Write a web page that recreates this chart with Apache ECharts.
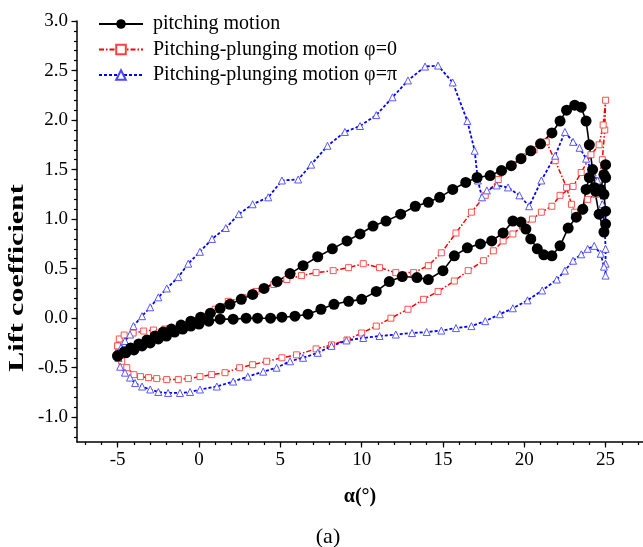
<!DOCTYPE html>
<html lang="en">
<head>
<meta charset="UTF-8">
<title>Lift coefficient</title>
<script src="https://cdn.jsdelivr.net/npm/echarts@6/dist/echarts.min.js"></script>
<style>
    html, body { margin: 0; padding: 0; background: #ffffff; }
    #chart { width: 643px; height: 547px; }
</style>
</head>
<body>
<div id="chart"></div>
<script>
// pitching motion (black, filled circles)
var pitchAlpha = [-5.0, -4.6, -4.2, -3.7, -3.2, -2.7, -2.2, -1.7, -1.1, -0.5, 0.1, 0.7, 1.3, 1.9, 2.6, 3.3, 4.0, 4.8, 5.6, 6.4,
    7.3, 8.2, 9.1, 9.9, 10.7, 11.5, 12.4, 13.3, 14.1, 14.8, 15.6, 16.4, 17.1, 17.9, 18.6, 19.2, 19.8, 20.4, 21.0, 21.7,
    22.2, 22.6, 23.1, 23.5, 23.8, 24.0, 24.2, 24.4, 24.7, 24.9, 25.0, 25.0, 24.9, 25.0, 25.0, 24.9, 24.6, 24.3, 24.0, 23.8,
    23.6, 23.2, 22.7, 22.2, 21.7, 21.2, 20.8, 20.4, 20.1, 19.8, 19.3, 18.7, 18.0, 17.3, 16.5, 15.7, 15.0, 14.1, 13.4, 12.5,
    11.7, 10.9, 10.0, 9.2, 8.3, 7.5, 6.7, 5.9, 5.1, 4.4, 3.6, 2.9, 2.1, 1.3, 0.6, 0.0, -0.5, -1.0, -1.5, -2.0,
    -2.5, -3.0, -3.5, -4.0, -4.5, -5.0];
var pitchCL = [-0.38, -0.34, -0.30, -0.26, -0.22, -0.18, -0.14, -0.11, -0.07, -0.03, 0.01, 0.05, 0.10, 0.14, 0.19, 0.24, 0.30, 0.37, 0.45, 0.53,
    0.62, 0.70, 0.78, 0.85, 0.93, 0.98, 1.05, 1.13, 1.17, 1.22, 1.30, 1.37, 1.42, 1.44, 1.49, 1.54, 1.61, 1.69, 1.76, 1.87,
    1.99, 2.10, 2.15, 2.13, 1.99, 1.75, 1.50, 1.28, 1.30, 1.45, 1.55, 1.42, 1.25, 1.08, 0.95, 0.87, 1.05, 1.32, 1.42, 1.30,
    1.10, 1.02, 0.91, 0.73, 0.63, 0.64, 0.70, 0.80, 0.90, 0.97, 0.98, 0.86, 0.78, 0.75, 0.71, 0.63, 0.48, 0.39, 0.41, 0.42,
    0.37, 0.27, 0.19, 0.17, 0.14, 0.09, 0.04, 0.02, 0.01, 0.00, 0.00, 0.00, -0.01, -0.01, -0.03, -0.06, -0.08, -0.11, -0.14, -0.18,
    -0.21, -0.25, -0.28, -0.32, -0.35, -0.38];

// pitching-plunging motion, phase 0 (red, open squares)
var phi0Alpha = [-5.0, -4.9, -4.6, -4.05, -3.4, -2.8, -2.1, -1.2, -0.45, 0.27, 1.0, 1.8, 2.7, 3.5, 4.6, 5.4, 6.3, 7.2, 8.25, 9.2,
    10.1, 11.1, 12.1, 13.2, 14.1, 14.9, 15.8, 16.75, 17.6, 18.4, 19.3, 19.9, 20.6, 21.35, 21.9, 22.6, 22.9, 23.1, 23.5, 23.9,
    24.4, 24.8, 24.95, 25.0, 24.85, 24.6, 24.1, 23.5, 23.0, 22.2, 21.7, 21.05, 20.5, 19.9, 19.3, 18.7, 18.1, 17.5, 16.55, 15.7,
    14.7, 13.8, 12.85, 11.8, 10.9, 10.0, 9.1, 8.15, 7.2, 6.0, 5.1, 4.16, 3.3, 2.5, 1.6, 0.78, 0.06, -0.66, -1.27, -1.98,
    -2.6, -3.1, -3.6, -4.0, -4.44, -4.75, -4.95, -5.0];
var phi0CL = [-0.28, -0.21, -0.17, -0.15, -0.13, -0.12, -0.11, -0.08, -0.03, 0.02, 0.09, 0.17, 0.21, 0.27, 0.34, 0.39, 0.43, 0.46, 0.48, 0.51,
    0.55, 0.51, 0.46, 0.46, 0.53, 0.66, 0.86, 1.07, 1.24, 1.40, 1.55, 1.63, 1.70, 1.78, 1.59, 1.32, 1.15, 1.07, 1.08, 1.20,
    1.25, 1.60, 1.90, 2.20, 1.95, 1.75, 1.65, 1.47, 1.33, 1.24, 1.13, 1.07, 1.00, 0.93, 0.85, 0.78, 0.68, 0.58, 0.48, 0.375,
    0.27, 0.19, 0.09, 0.00, -0.08, -0.15, -0.22, -0.27, -0.31, -0.37, -0.40, -0.435, -0.47, -0.50, -0.55, -0.57, -0.59, -0.61, -0.62, -0.62,
    -0.61, -0.60, -0.59, -0.57, -0.50, -0.435, -0.35, -0.28];

// pitching-plunging motion, phase pi (blue, open triangles)
var phiPiAlpha = [-4.95, -4.8, -4.55, -4.24, -4.03, -3.5, -3.0, -2.5, -1.98, -1.27, -0.66, 0.06, 0.8, 1.65, 2.45, 3.3, 4.26, 5.1, 6.1, 6.9,
    7.9, 8.97, 9.9, 10.9, 11.9, 12.85, 13.9, 14.7, 15.6, 16.5, 16.95, 17.15, 17.4, 17.7, 18.3, 19.0, 19.7, 20.3, 21.05, 21.9,
    22.5, 23.0, 23.4, 23.8, 24.2, 24.5, 24.8, 24.95, 25.0, 25.0, 25.0, 24.9, 24.7, 24.3, 23.9, 23.5, 23.0, 22.5, 22.0, 21.1,
    20.2, 19.3, 18.5, 17.6, 16.75, 15.8, 14.9, 14.0, 13.1, 12.1, 11.1, 10.1, 9.07, 8.15, 7.3, 6.4, 5.6, 4.77, 3.95, 3.0,
    2.1, 1.1, 0.06, -0.55, -1.17, -1.9, -2.5, -3.0, -3.5, -3.93, -4.24, -4.55, -4.85, -4.95];
var phiPiCL = [-0.40, -0.30, -0.23, -0.165, -0.08, 0.02, 0.11, 0.21, 0.30, 0.415, 0.55, 0.67, 0.80, 0.91, 1.05, 1.15, 1.22, 1.39, 1.40, 1.55,
    1.74, 1.88, 1.94, 2.05, 2.23, 2.40, 2.54, 2.55, 2.38, 1.99, 1.69, 1.39, 1.22, 1.29, 1.34, 1.32, 1.24, 1.13, 1.39, 1.64,
    1.88, 1.78, 1.72, 1.61, 1.47, 1.39, 1.15, 0.90, 0.70, 0.55, 0.43, 0.52, 0.65, 0.73, 0.70, 0.645, 0.58, 0.48, 0.39, 0.28,
    0.18, 0.10, 0.04, -0.03, -0.08, -0.10, -0.125, -0.14, -0.15, -0.165, -0.18, -0.20, -0.225, -0.28, -0.35, -0.40, -0.435, -0.50, -0.54, -0.59,
    -0.64, -0.69, -0.72, -0.745, -0.755, -0.755, -0.745, -0.72, -0.69, -0.655, -0.60, -0.55, -0.49, -0.40];

// tick labels
var xTicks = [-5, 0, 5, 10, 15, 20, 25];
var yTicks = [-1.0, -0.5, 0.0, 0.5, 1.0, 1.5, 2.0, 2.5, 3.0];

var serif = 'Liberation Serif';
var xMin = -7.5, xMax = 27.3, yMin = -1.25, yMax = 3.0;

// minor ticks: every 1 degree on x, every 0.1 on y
var xMinor = [];
for (var i = -7; i <= 27; i++) xMinor.push(i);
var yMinor = [];
for (var j = -12; j <= 30; j++) yMinor.push(j / 10);

function zip(a, b) {
    return a.map(function (v, k) { return [v, b[k]]; });
}

var chart = echarts.init(document.getElementById('chart'));

var axisLine = { show: true, onZero: false, lineStyle: { color: '#000', width: 1.5 } };
var noLine = { show: false, onZero: false };
var tickLine = { color: '#000', width: 1.2 };

chart.setOption({
    animation: false,
    backgroundColor: '#ffffff',
    grid: { left: 77, right: 0, top: 21, bottom: 105, containLabel: false, outerBoundsMode: 'none' },
    xAxis: [
        { // minor ticks + axis line
            type: 'value', min: xMin, max: xMax, position: 'bottom',
            axisLine: axisLine,
            axisTick: { show: true, customValues: xMinor, length: 3, lineStyle: tickLine },
            axisLabel: { show: false },
            splitLine: { show: false }
        },
        { // major ticks + labels
            type: 'value', min: xMin, max: xMax, position: 'bottom',
            axisLine: noLine,
            axisTick: { show: true, customValues: xTicks, length: 5.5, lineStyle: tickLine },
            axisLabel: { customValues: xTicks, color: '#000', fontFamily: serif, fontSize: 19, margin: 9 },
            splitLine: { show: false },
            name: 'α(°)', nameLocation: 'middle', nameGap: 45,
            nameTextStyle: { color: '#000', fontFamily: serif, fontSize: 20, fontWeight: 'bold' }
        }
    ],
    yAxis: [
        {
            type: 'value', min: yMin, max: yMax, position: 'left',
            axisLine: axisLine,
            axisTick: { show: true, customValues: yMinor, length: 3, lineStyle: tickLine },
            axisLabel: { show: false },
            splitLine: { show: false }
        },
        {
            type: 'value', min: yMin, max: yMax, position: 'left',
            axisLine: noLine,
            axisTick: { show: true, customValues: yTicks, length: 5.5, lineStyle: tickLine },
            axisLabel: {
                customValues: yTicks, color: '#000', fontFamily: serif, fontSize: 19, margin: 9,
                formatter: function (v) { return v.toFixed(1); }
            },
            splitLine: { show: false }
        }
    ],
    legend: [
        { data: ['pitching motion'], left: 98, top: 14 },
        { data: ['Pitching-plunging motion φ=0'], left: 98, top: 39.5 },
        { data: ['Pitching-plunging motion φ=π'], left: 98, top: 65 }
    ].map(function (l) {
        l.orient = 'vertical';
        l.itemWidth = 44;
        l.itemHeight = 12;
        l.padding = 0;
        l.textStyle = { color: '#000', fontFamily: serif, fontSize: 20, padding: [0, 0, 0, 5] };
        return l;
    }),
    graphic: [
        {
            type: 'text', x: 18, y: 278, rotation: Math.PI / 2, scaleX: 1.5,
            style: { text: 'Lift coefficient', fill: '#000', font: 'bold 20px "Liberation Serif"', align: 'center', verticalAlign: 'middle' }
        },
        {
            type: 'text', x: 328, y: 537,
            style: { text: '(a)', fill: '#000', font: '22px "Liberation Serif"', align: 'center', verticalAlign: 'middle' }
        }
    ],
    series: [
        {
            name: 'Pitching-plunging motion φ=0', type: 'line',
            data: zip(phi0Alpha, phi0CL),
            symbol: 'rect', symbolSize: 6,
            itemStyle: { color: '#ffffff', borderColor: '#ff4040', borderWidth: 0.9 },
            lineStyle: { color: '#ff0000', width: 1.5, type: [5, 2, 1.5, 2] }
        },
        {
            name: 'Pitching-plunging motion φ=π', type: 'line',
            data: zip(phiPiAlpha, phiPiCL),
            symbol: 'triangle', symbolSize: 7,
            itemStyle: { color: '#ffffff', borderColor: '#4848ff', borderWidth: 0.9 },
            lineStyle: { color: '#0000ff', width: 1.8, type: [3, 2] }
        },
        {
            name: 'pitching motion', type: 'line',
            data: zip(pitchAlpha, pitchCL),
            symbol: 'circle', symbolSize: 11,
            itemStyle: { color: '#000000' },
            lineStyle: { color: '#000000', width: 1.6 }
        }
    ]
});
</script>
</body>
</html>
